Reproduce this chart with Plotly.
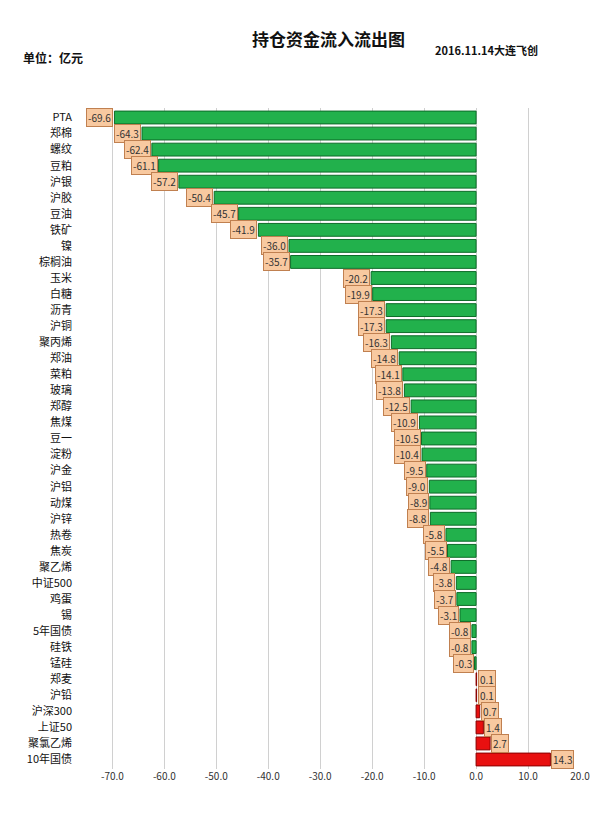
import plotly.graph_objects as go

categories = ['PTA', '郑棉', '螺纹', '豆粕', '沪银', '沪胶', '豆油', '铁矿', '镍', '棕榈油',
              '玉米', '白糖', '沥青', '沪铜', '聚丙烯', '郑油', '菜粕', '玻璃', '郑醇', '焦煤',
              '豆一', '淀粉', '沪金', '沪铝', '动煤', '沪锌', '热卷', '焦炭', '聚乙烯', '中证500',
              '鸡蛋', '锡', '5年国债', '硅铁', '锰硅', '郑麦', '沪铅', '沪深300', '上证50', '聚氯乙烯',
              '10年国债']
values = [-69.6, -64.3, -62.4, -61.1, -57.2, -50.4, -45.7, -41.9, -36.0, -35.7,
          -20.2, -19.9, -17.3, -17.3, -16.3, -14.8, -14.1, -13.8, -12.5, -10.9,
          -10.5, -10.4, -9.5, -9.0, -8.9, -8.8, -5.8, -5.5, -4.8, -3.8,
          -3.7, -3.1, -0.8, -0.8, -0.3, 0.1, 0.1, 0.7, 1.4, 2.7,
          14.3]
tick_vals = [-70, -60, -50, -40, -30, -20, -10, 0, 10, 20]
tick_text = ['%.1f' % v for v in tick_vals]

colors = ['#22b14c' if v < 0 else '#e81010' for v in values]
lines = ['#0d6b28' if v < 0 else '#8a0000' for v in values]

fig = go.Figure(go.Bar(
    x=values, y=categories, orientation='h',
    marker=dict(color=colors, line=dict(color=lines, width=1)),
    width=0.8,
))

for c, v in zip(categories, values):
    fig.add_annotation(
        x=v, y=c, text='%.1f' % v, showarrow=False,
        xanchor='right' if v < 0 else 'left', xshift=-1 if v < 0 else 1,
        bgcolor='#f8c9a0', bordercolor='#c08050', borderwidth=1, borderpad=1,
        font=dict(size=10, color='#333'),
    )

fig.add_annotation(text='<b>持仓资金流入流出图</b>', x=0.5, y=1.0, xref='paper', yref='paper',
                   xanchor='center', yanchor='bottom', yshift=55, showarrow=False,
                   font=dict(size=17, color='#111'))
fig.add_annotation(text='<b>单位：亿元</b>', x=-0.11, y=1.0, xref='paper', yref='paper',
                   xanchor='left', yanchor='bottom', yshift=40, showarrow=False,
                   font=dict(size=12, color='#111'))
fig.add_annotation(text='<b>2016.11.14大连飞创</b>', x=0.92, y=1.0, xref='paper', yref='paper',
                   xanchor='right', yanchor='bottom', yshift=48, showarrow=False,
                   font=dict(size=11, color='#111'))

fig.update_layout(
    width=600, height=836,
    margin=dict(l=68, r=28, t=100, b=75),
    plot_bgcolor='white', paper_bgcolor='white',
    showlegend=False, bargap=0.2,
    font=dict(family='Noto Sans CJK SC', size=11, color='#111'),
    xaxis=dict(range=[-77, 20], tickvals=tick_vals, ticktext=tick_text,
               showgrid=True, gridcolor='#d0d0d0', zeroline=False,
               tickfont=dict(size=10, color='#333')),
    yaxis=dict(autorange='reversed', tickfont=dict(size=11, color='#111'),
               ticklabelstandoff=3),
)

fig.write_html('out.html')
